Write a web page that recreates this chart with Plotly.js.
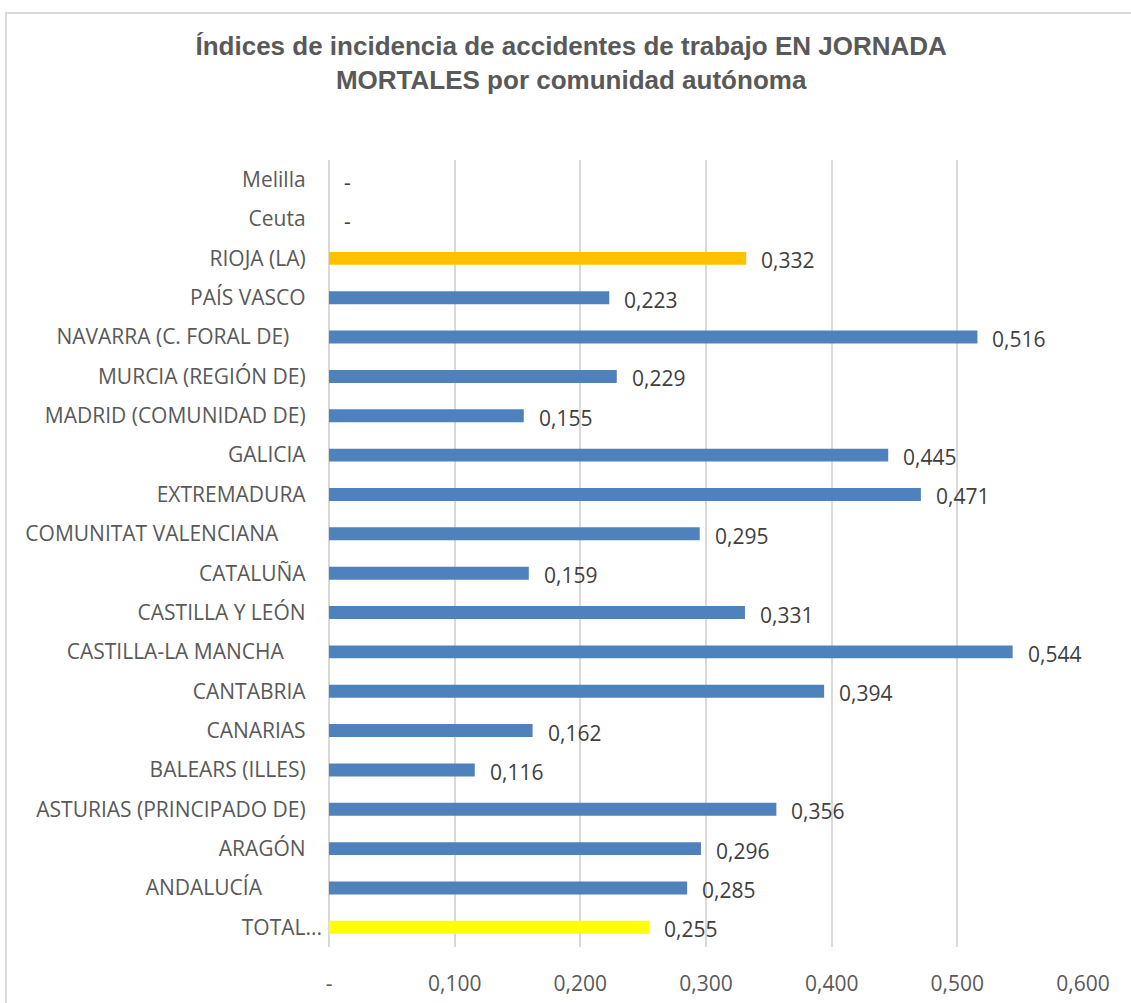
<!DOCTYPE html>
<html>
<head>
<meta charset="utf-8">
<script src="https://cdn.plot.ly/plotly-3.0.1.min.js"></script>
<style>
  body { margin: 0; overflow: hidden; background: #fff; }
  #plot { width: 1131px; height: 1003px; }
  #frame { position: absolute; left: 5px; top: 12px; width: 1300px; height: 1200px;
           border: 2px solid #d9d9d9; pointer-events: none; }
</style>
</head>
<body>
<div id="plot"></div>
<div id="frame"></div>
<script>
// categories bottom -> top (trailing spaces come from the source labels)
const regions = [
    'TOTAL...', 'ANDALUCÍA           ', 'ARAGÓN   ', 'ASTURIAS (PRINCIPADO DE)   ',
    'BALEARS (ILLES)   ', 'CANARIAS   ', 'CANTABRIA   ', 'CASTILLA-LA MANCHA       ',
    'CASTILLA Y LEÓN   ', 'CATALUÑA   ', 'COMUNITAT VALENCIANA        ', 'EXTREMADURA   ',
    'GALICIA   ', 'MADRID (COMUNIDAD DE)   ', 'MURCIA (REGIÓN DE)   ', 'NAVARRA (C. FORAL DE)      ',
    'PAÍS VASCO   ', 'RIOJA (LA)   ', 'Ceuta   ', 'Melilla   '
];
const values = [
    0.255, 0.285, 0.296, 0.356, 0.116, 0.162, 0.394, 0.544, 0.331, 0.159,
    0.295, 0.471, 0.445, 0.155, 0.229, 0.516, 0.223, 0.332, 0, 0
];
const valueLabels = [
    '0,255', '0,285', '0,296', '0,356', '0,116', '0,162', '0,394', '0,544', '0,331', '0,159',
    '0,295', '0,471', '0,445', '0,155', '0,229', '0,516', '0,223', '0,332', '-', '-'
];
const xTickVals = [0, 0.1, 0.2, 0.3, 0.4, 0.5, 0.6];
const xTickText = ['-', '0,100', '0,200', '0,300', '0,400', '0,500', '0,600'];

const BLUE = '#4f81bd';
const colors = regions.map(r => {
    if (r.startsWith('TOTAL')) return '#ffff00';
    if (r.startsWith('RIOJA')) return '#ffc000';
    return BLUE;
});

const cats = regions.map(r => r.replace(/ /g, '\u00a0'));

const data = [{
    type: 'bar',
    orientation: 'h',
    x: values,
    y: cats,
    marker: {color: colors},
    hoverinfo: 'x+y'
}];

const annotations = values.map((v, i) => ({
    x: v, y: cats[i], xref: 'x', yref: 'y',
    text: valueLabels[i], showarrow: false,
    xanchor: 'left', xshift: 13, yshift: -2,
    font: {family: 'Open Sans', size: 21, color: '#404040'}
}));

const layout = {
    width: 1131,
    height: 1003,
    margin: {l: 329, r: 48, t: 160, b: 56},
    paper_bgcolor: '#fff',
    plot_bgcolor: '#fff',
    showlegend: false,
    bargap: 0.67,
    title: {
        text: 'Índices de incidencia de accidentes de trabajo EN JORNADA<br>MORTALES por comunidad autónoma',
        font: {family: 'Liberation Sans, Arial', size: 26, color: '#595959', weight: 'bold'},
        x: 0.505, xref: 'container', xanchor: 'center',
        y: 0.945, yref: 'container', yanchor: 'top'
    },
    xaxis: {
        range: [0, 0.6],
        tickvals: xTickVals,
        ticktext: xTickText,
        showgrid: true,
        gridcolor: '#d9d9d9',
        gridwidth: 2,
        zeroline: true,
        zerolinecolor: '#d9d9d9',
        zerolinewidth: 2,
        showline: false,
        ticks: '',
        ticklabelstandoff: 22,
        tickfont: {family: 'Open Sans', size: 21, color: '#595959'},
        fixedrange: true
    },
    yaxis: {
        type: 'category',
        categoryorder: 'array',
        categoryarray: cats,
        showgrid: false,
        zeroline: false,
        showline: false,
        ticks: '',
        ticklabelstandoff: 6,
        tickfont: {family: 'Open Sans', size: 21, color: '#595959'},
        fixedrange: true
    },
    annotations: annotations
};

Plotly.newPlot('plot', data, layout, {displayModeBar: false, staticPlot: true});
</script>
</body>
</html>
